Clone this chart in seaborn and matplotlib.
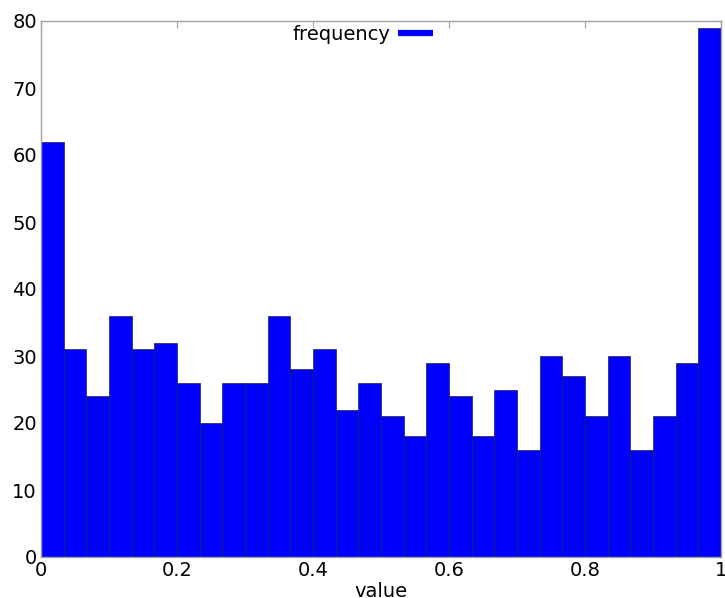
import numpy as np
import pandas as pd
import matplotlib
matplotlib.use("Agg")
import matplotlib.pyplot as plt
import seaborn as sns
from matplotlib.lines import Line2D

sns.set_style("white")
plt.rcParams['font.family'] = ['DejaVu Sans']
plt.rcParams['text.color'] = 'black'
plt.rcParams['axes.labelcolor'] = 'black'
plt.rcParams['xtick.color'] = 'black'
plt.rcParams['ytick.color'] = 'black'

# histogram counts, 30 bins over [0, 1]
counts = [62, 31, 24, 36, 31, 32, 26, 20, 26, 26,
          36, 28, 31, 22, 26, 21, 18, 29, 24, 18,
          25, 16, 30, 27, 21, 30, 16, 21, 29, 79]
n_bins = len(counts)
edges = np.linspace(0, 1, n_bins + 1)
centers = (edges[:-1] + edges[1:]) / 2

xticks = [0, 0.2, 0.4, 0.6, 0.8, 1]
xticklabels = ['0', '0.2', '0.4', '0.6', '0.8', '1']
yticks = [0, 10, 20, 30, 40, 50, 60, 70, 80]

df = pd.DataFrame({'value': centers, 'frequency': counts})

fig = plt.figure(figsize=(7.25, 5.98), dpi=100)
ax = fig.add_axes([41/725, 41/598, 680/725, 536/598])

sns.histplot(data=df, x='value', weights='frequency', bins=n_bins, binrange=(0, 1),
             color='#0000ff', alpha=1, edgecolor='#202040', linewidth=0.5, ax=ax)

ax.set_xlim(0, 1)
ax.set_ylim(0, 80)
ax.set_xticks(xticks)
ax.set_xticklabels(xticklabels)
ax.set_yticks(yticks)
ax.tick_params(direction='in', length=5, color='#a0a0a0', labelcolor='black',
               labelsize=14, top=True, right=True, pad=3)
for s in ax.spines.values():
    s.set_color('#a0a0a0')
    s.set_linewidth(1)

ax.set_xlabel('value', fontsize=14, labelpad=1, color='black')
ax.set_ylabel('')

handle = Line2D([], [], color='#0000ff', linewidth=4.5, solid_capstyle='butt')
ax.legend([handle], ['frequency'], loc='center right', bbox_to_anchor=(433/725, 1 - 34/598),
          bbox_transform=fig.transFigure, frameon=False, markerfirst=False,
          fontsize=14, handlelength=1.8, handletextpad=0.4, borderpad=0, borderaxespad=0)

fig.savefig('out.png', dpi=100)
